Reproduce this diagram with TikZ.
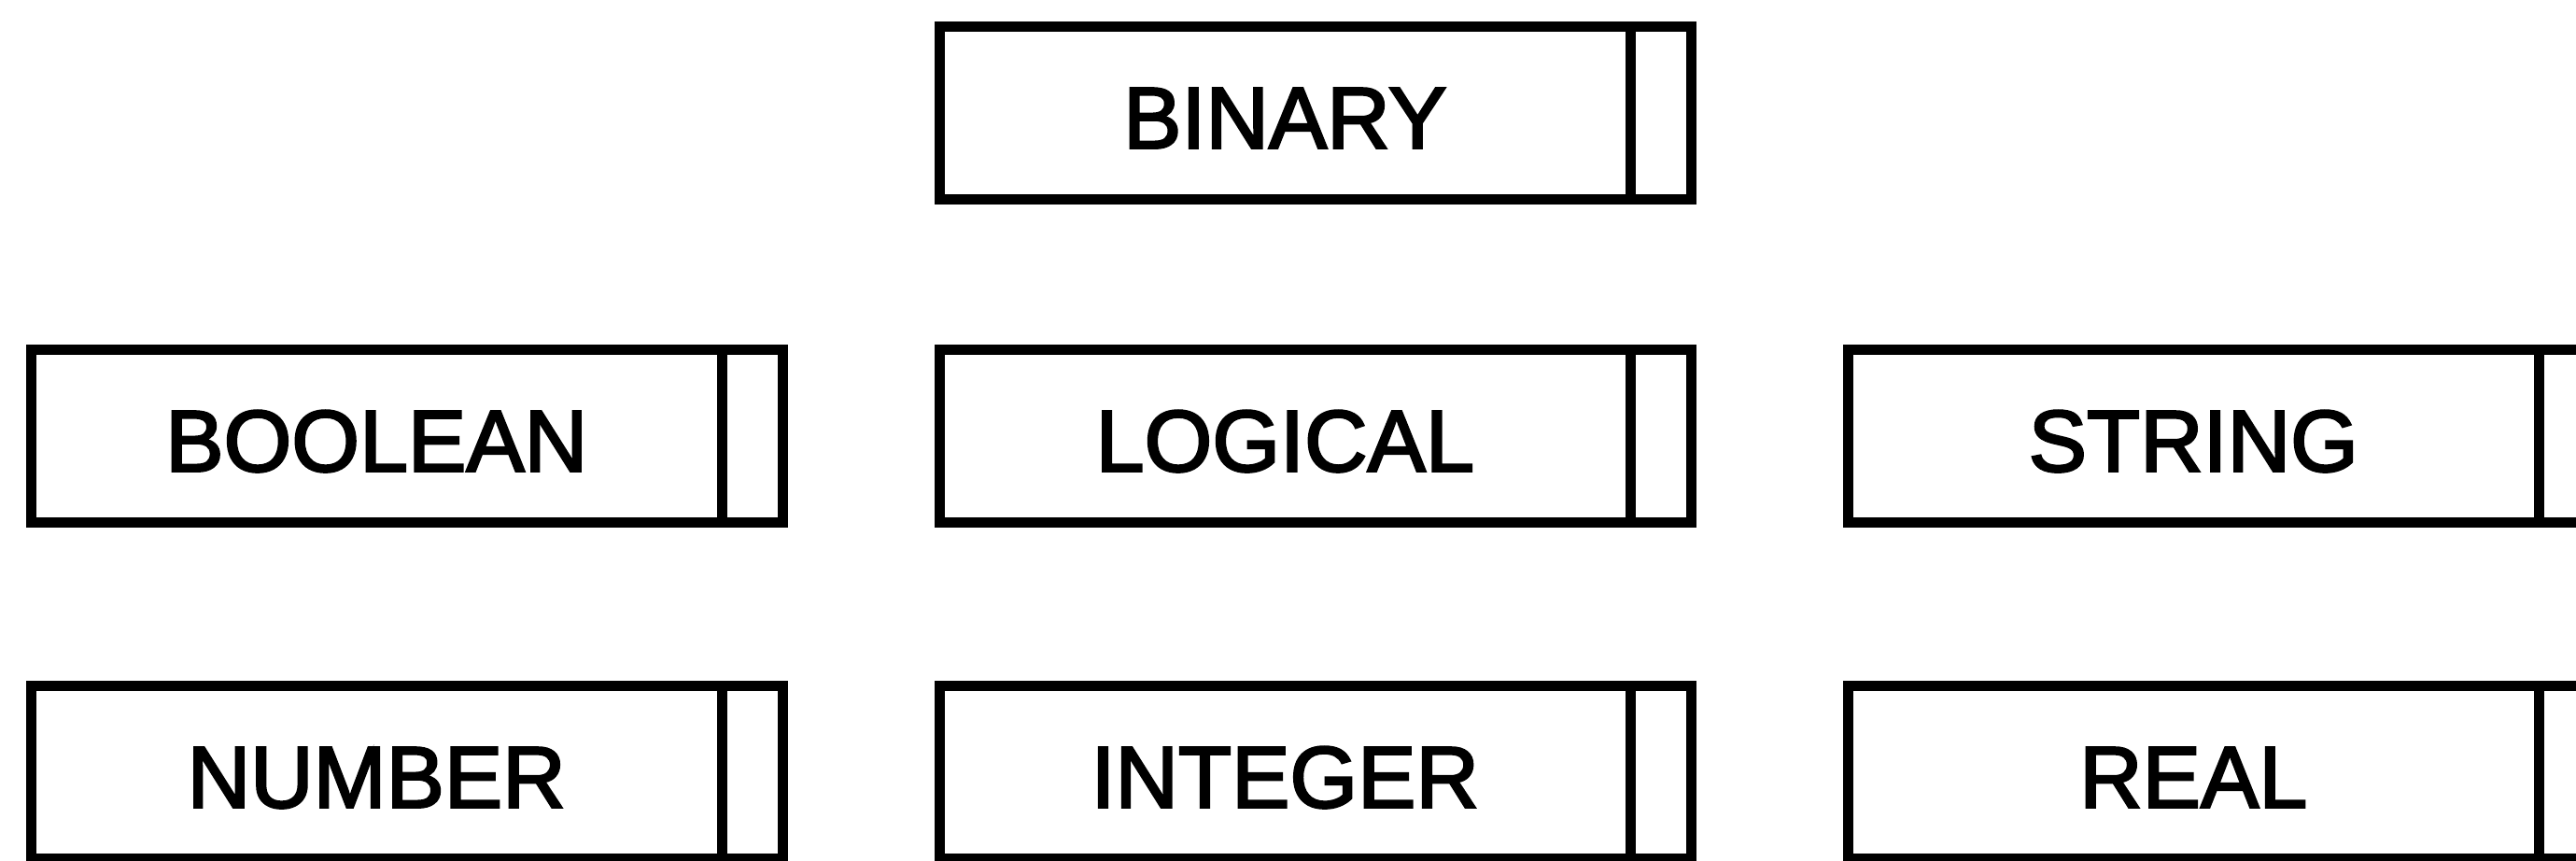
\documentclass[tikz,border=0pt]{standalone}
\usepackage{fontspec}
\setmainfont{Liberation Sans}
\newfontfamily\fieldfont[FakeBold=2.6]{Liberation Sans}
\begin{document}
\begin{tikzpicture}[scale=1,
        field/.style={draw, line width=1.1mm, outer sep=0pt, inner sep=0pt,
            minimum width=7.395cm, minimum height=1.85cm,
            text height=21.2pt, text depth=0pt,
            font=\fieldfont\fontsize{26.6pt}{32pt}\selectfont},
        tagbox/.style={draw, line width=1.1mm, outer sep=0pt, inner sep=0pt,
            minimum width=0.655cm, minimum height=1.85cm}]
        \useasboundingbox (0,0) rectangle (27.59,-9.22);

        \foreach \name/\txt/\x/\y in {binary/BINARY/13.7625/-1.215,
            boolean/BOOLEAN/4.0325/-4.675, logical/LOGICAL/13.7625/-4.675,
            string/STRING/23.4925/-4.675, number/NUMBER/4.0325/-8.275,
            integer/INTEGER/13.7625/-8.275, real/REAL/23.4925/-8.275}
            {
                \node[field] (\name) at (\x, \y) {\txt};
                \node[tagbox, anchor=west] (\name-tag) at (\name.east) {};
            }
    \end{tikzpicture}
\end{document}
